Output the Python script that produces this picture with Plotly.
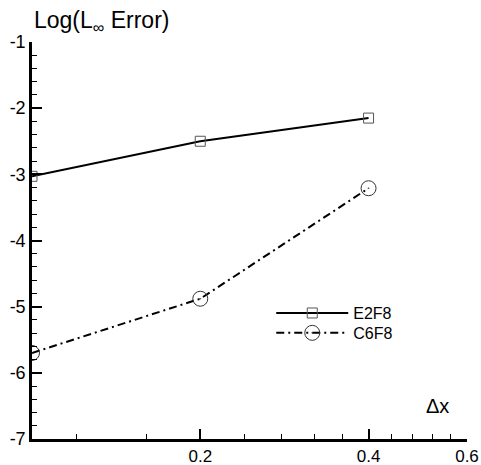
import math
import plotly.graph_objects as go

dx = [0.1, 0.2, 0.4]
e2f8 = [-3.03, -2.50, -2.15]
c6f8 = [-5.70, -4.88, -3.21]
x_ticks = [0.2, 0.4, 0.6]
x_minor = [0.12, 0.16, 0.24, 0.28, 0.32, 0.36, 0.44, 0.48, 0.52, 0.56]
y_ticks = [-1, -2, -3, -4, -5, -6, -7]

FONT = "Liberation Sans, Arial, sans-serif"

fig = go.Figure()
fig.add_trace(go.Scatter(
    x=dx, y=e2f8, name="E2F8", mode="lines+markers", legend="legend",
    line=dict(color="black", width=2),
    marker=dict(symbol="square-open", size=10, color="#555555", line=dict(width=1)),
))
fig.add_trace(go.Scatter(
    x=dx, y=c6f8, name="C6F8", mode="lines+markers", legend="legend2",
    line=dict(color="black", width=2, dash="8px,4px,2px,4px"),
    marker=dict(symbol="circle-open-dot", size=15, color="#333333", line=dict(width=1)),
))

leg = dict(xanchor="left", yanchor="top", bgcolor="rgba(0,0,0,0)",
           font=dict(size=16, family=FONT), itemwidth=72)

fig.update_layout(
    width=481, height=465,
    margin=dict(l=32, r=14, t=42, b=26, autoexpand=False),
    paper_bgcolor="white", plot_bgcolor="white",
    font=dict(family=FONT, color="black", size=18),
    showlegend=True,
    legend=dict(x=0.55, y=0.360, **leg),
    legend2=dict(x=0.55, y=0.310, **leg),
    xaxis=dict(
        type="log", range=[math.log10(0.1), math.log10(0.6)], showgrid=False, zeroline=False,
        showline=True, linecolor="black", linewidth=2.5, automargin=False,
        tickvals=x_ticks, ticktext=[str(v) for v in x_ticks],
        ticks="inside", ticklen=10, tickwidth=2, tickcolor="black",
        minor=dict(tickvals=x_minor, ticks="inside", ticklen=5, tickwidth=1, tickcolor="black"),
        tickfont=dict(size=17),
    ),
    yaxis=dict(
        range=[-7, -1], showgrid=False, zeroline=False,
        showline=True, linecolor="black", linewidth=2.5, automargin=False,
        tickvals=y_ticks, ticktext=[str(v) for v in y_ticks],
        ticks="inside", ticklen=10, tickwidth=2, tickcolor="black",
        minor=dict(dtick=0.2, ticks="inside", ticklen=5, tickwidth=1, tickcolor="black"),
        tickfont=dict(size=18),
    ),
    annotations=[
        dict(text="Log(L<sub>∞</sub> Error)", xref="paper", yref="paper", x=0.16, y=1,
             xanchor="center", yanchor="bottom", yshift=4, showarrow=False,
             font=dict(size=23, family=FONT)),
        dict(text="Δx", xref="paper", yref="paper", x=0.933, y=0.083,
             xanchor="center", yanchor="middle", showarrow=False,
             font=dict(size=20, family=FONT)),
    ],
)

fig.write_html("out.html")
